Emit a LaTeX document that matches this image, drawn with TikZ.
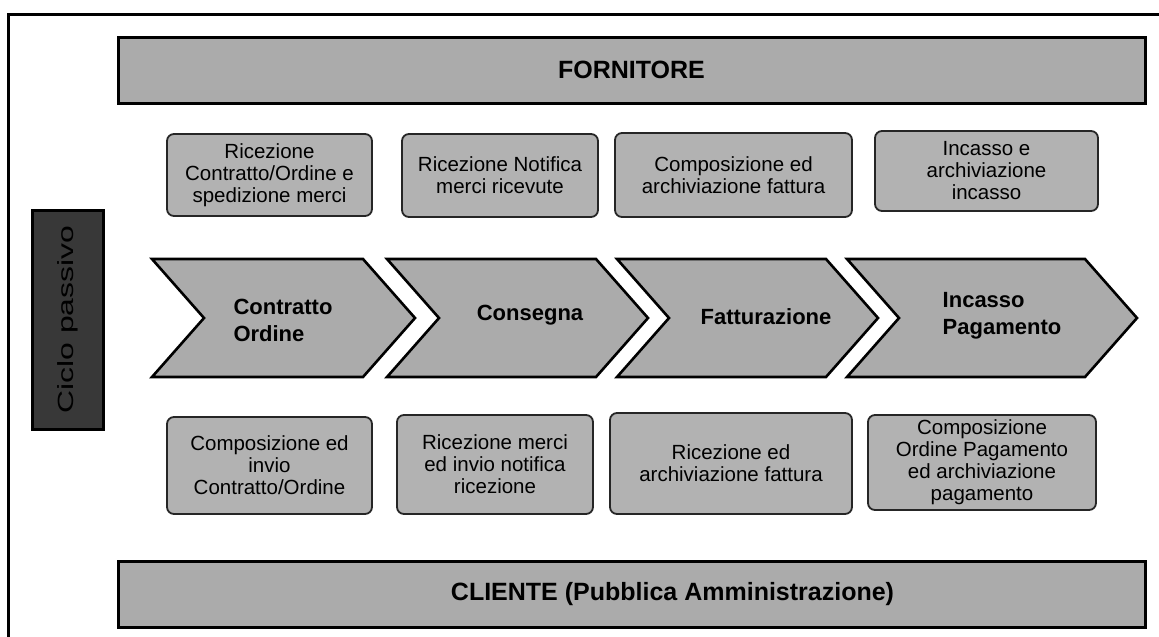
\documentclass[tikz,border=0pt]{standalone}
\usepackage{fontspec}
\setmainfont{Liberation Sans}
\definecolor{bargray}{gray}{0.67}
\definecolor{boxgray}{gray}{0.70}
\definecolor{sidegray}{gray}{0.22}

\begin{document}
\begin{tikzpicture}[x=1pt, y=-1pt,
    bar/.style={draw=black, line width=3pt, fill=bargray, inner sep=0pt,
      minimum width=1027pt, minimum height=66pt,
      font=\fontsize{25}{30}\selectfont\bfseries},
    task/.style={draw=black!85, line width=1.8pt, fill=boxgray,
      rounded corners=7pt, inner sep=0pt, align=center,
      font=\fontsize{20.5}{22}\selectfont},
    phase/.style={draw=black, line width=2.6pt, fill=bargray},
    phasetext/.style={align=left, font=\fontsize{22}{27}\selectfont\bfseries}]
   \useasboundingbox (0,0) rectangle (1159,637);

   % cornice
   \draw[line width=3pt] (8.5,637) -- (8.5,14.5) -- (1159,14.5);

   \node[bar] (fornitore) at (631.5,70) {FORNITORE};
   \node[bar] (cliente) at (631.5,594) {};
   \node[font=\fontsize{25}{30}\selectfont\bfseries] (clientetxt)
      at ([xshift=41pt]cliente.center) {CLIENTE (Pubblica Amministrazione)};

   \node[draw=black, line width=3pt, fill=sidegray, rotate=90, inner sep=0pt,
      minimum width=219pt, minimum height=71pt, text=black,
      font=\fontsize{22}{26}\selectfont]
      (ciclo) at (67.5,319.5) {\scalebox{1.45}[1]{Ciclo passivo}};

   % fasi
   \foreach \x/\w in {152/263, 387/261, 617/261, 847/290}
      \filldraw[phase] (\x,259) -- ++({\w-52},0) -- ++(52,59) -- ++(-52,59)
         -- ++({52-\w},0) -- ++(52,-59) -- cycle;

   \node[phasetext] (ordine) at (283,320) {Contratto\\Ordine};
   \node[phasetext] (consegna) at (530,315) {Consegna};
   \node[phasetext] (fatturazione) at (766,317) {Fatturazione};
   \node[phasetext] (pagamento) at (1002,316) {Incasso\\Pagamento};

   % fornitore
   \node[task, minimum width=205pt, minimum height=82pt] (ricordine) at (269.5,175)
      {Ricezione\\Contratto/Ordine e\\spedizione merci};
   \node[task, minimum width=196pt, minimum height=83pt] (ricnotifica) at (500,175.5)
      {Ricezione Notifica\\merci ricevute};
   \node[task, minimum width=237pt, minimum height=84pt] (compfattura) at (733.5,175)
      {Composizione ed\\archiviazione fattura};
   \node[task, minimum width=223pt, minimum height=80pt] (incasso) at (986.5,171)
      {Incasso e\\archiviazione\\incasso};

   % cliente
   \node[task, minimum width=205pt, minimum height=97pt] (invioordine) at (269.5,465.5)
      {Composizione ed\\invio\\Contratto/Ordine};
   \node[task, minimum width=196pt, minimum height=99pt] (ricmerci) at (495,464.5)
      {Ricezione merci\\ed invio notifica\\ricezione};
   \node[task, minimum width=242pt, minimum height=101pt] (ricfattura) at (731,463.5)
      {Ricezione ed\\archiviazione fattura};
   \node[task, minimum width=228pt, minimum height=95pt] (ordpagamento) at (982,462.5)
      {Composizione\\Ordine Pagamento\\ed archiviazione\\pagamento};
\end{tikzpicture}
\end{document}
